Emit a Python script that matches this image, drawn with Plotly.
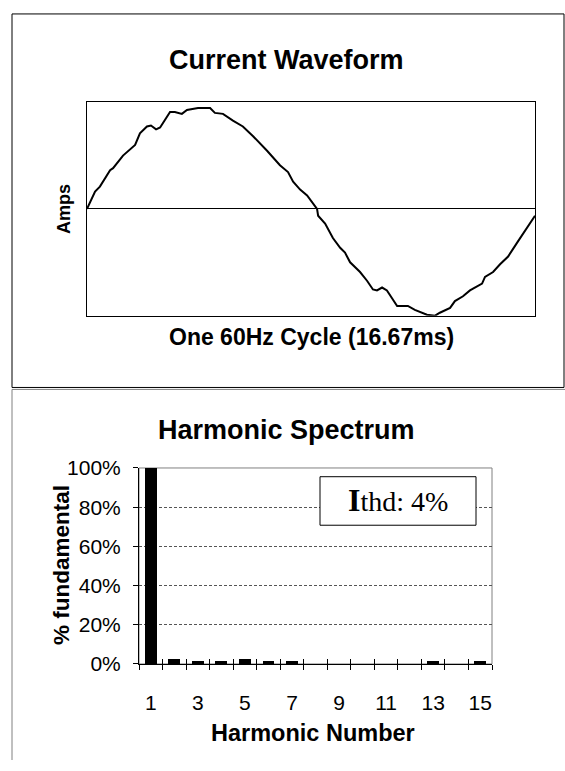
import plotly.graph_objects as go

# ---------------- data ----------------
time_ms = [0.00, 0.30, 0.48, 0.86, 0.97, 1.34, 1.79, 1.97, 2.23, 2.38, 2.57, 2.72,
           3.09, 3.27, 3.53, 3.72, 4.13, 4.58, 4.76, 5.06, 5.43, 5.80, 6.18, 6.70,
           7.18, 7.48, 7.67, 7.93, 8.19, 8.37, 8.56, 8.60, 8.86, 9.15, 9.42, 9.60,
           9.79, 10.16, 10.42, 10.64, 10.79, 10.98, 11.16, 11.35, 11.54, 11.94, 12.20,
           12.65, 12.95, 13.13, 13.51, 13.69, 13.99, 14.25, 14.70, 14.81, 15.11, 15.37,
           15.67, 16.00, 16.37, 16.67]
current = [0, 18, 23, 40, 42, 55, 66, 78, 85, 86, 82, 84,
           100, 100, 98, 102, 104, 104, 99, 98, 91, 85, 75, 60,
           45, 38, 28, 20, 14, 7, 0, -7, -15, -30, -40, -45,
           -55, -65, -74, -83, -84, -81, -84, -92, -100, -100, -104,
           -109, -110, -107, -102, -95, -90, -84, -77, -70, -65, -57,
           -49, -35, -20, -7]

harmonic_numbers = list(range(1, 16))
harmonic_pct = [100, 2.5, 1.3, 1.3, 2.5, 1.3, 1.5, 0, 0, 0, 0, 0, 1.3, 0, 1.3]
harmonic_label_vals = [1, 3, 5, 7, 9, 11, 13, 15]
harmonic_boundaries = [h - 0.5 for h in range(1, 17)]
pct_ticks = [0, 20, 40, 60, 80, 100]
pct_labels = ["0%", "20%", "40%", "60%", "80%", "100%"]
thd_text = "Ithd: 4%"

# ---------------- layout helpers ----------------
W, H = 565, 771
def px(x):
    return x / W
def py(y):
    return 1 - y / H

SANS = "Arial, Liberation Sans, sans-serif"
SERIF = "Times New Roman, Liberation Serif, serif"

fig = go.Figure()

fig.add_trace(go.Scatter(x=time_ms, y=current, mode="lines",
                         line=dict(color="black", width=2),
                         xaxis="x", yaxis="y", showlegend=False, hoverinfo="skip"))

fig.add_trace(go.Bar(x=harmonic_numbers, y=harmonic_pct, width=0.5,
                     marker=dict(color="black", line=dict(width=0)),
                     xaxis="x2", yaxis="y2", showlegend=False))

# empty helper traces so overlay tick axes render
fig.add_trace(go.Scatter(x=[], y=[], xaxis="x3", yaxis="y2", showlegend=False))
fig.add_trace(go.Scatter(x=[], y=[], xaxis="x4", yaxis="y2", showlegend=False))

top_x = [px(87), px(535)]
top_y = [py(313), py(93)]
bot_x = [px(139), px(492)]
bot_y = [py(672), py(470)]

fig.update_layout(
    width=W, height=H,
    margin=dict(l=0, r=0, t=0, b=0),
    paper_bgcolor="white", plot_bgcolor="white",
    bargap=0,
    xaxis=dict(domain=top_x, anchor="y", range=[0, 16.67], showticklabels=False,
               ticks="", showgrid=False, zeroline=False,
               showline=True, mirror=True, linecolor="black", linewidth=1),
    yaxis=dict(domain=top_y, anchor="x", range=[-110, 110], showticklabels=False,
               ticks="", showgrid=False, zeroline=True, zerolinecolor="black",
               zerolinewidth=1, showline=True, mirror=True, linecolor="black", linewidth=1),
    xaxis2=dict(domain=bot_x, anchor="y2", range=[0.5, 15.5], tickmode="array",
                tickvals=harmonic_label_vals, ticks="", showgrid=False, zeroline=False,
                showline=True, linecolor="black", linewidth=1,
                tickfont=dict(family=SANS, size=21, color="black"),
                ticklabelstandoff=20),
    xaxis3=dict(overlaying="x2", anchor="y2", range=[0.5, 15.5], tickmode="array",
                tickvals=harmonic_boundaries, ticks="outside", ticklen=5, tickwidth=1,
                tickcolor="black", showticklabels=False, showgrid=False,
                zeroline=False, showline=False),
    xaxis4=dict(overlaying="x2", anchor="y2", range=[0.5, 15.5], tickmode="array",
                tickvals=harmonic_boundaries, ticks="inside", ticklen=5, tickwidth=1,
                tickcolor="black", showticklabels=False, showgrid=False,
                zeroline=False, showline=False),
    yaxis2=dict(domain=bot_y, anchor="x2", range=[0, 100], tickmode="array",
                tickvals=pct_ticks, ticktext=pct_labels, ticks="outside", ticklen=5,
                tickcolor="black", showline=True, linecolor="black", linewidth=1,
                showgrid=True, gridcolor="#555555", griddash="3px,2px", gridwidth=1,
                zeroline=False, tickfont=dict(family=SANS, size=21, color="black"),
                ticklabelstandoff=8),
)

shapes = [
    # outer frame of the waveform chart
    dict(type="rect", xref="paper", yref="paper", x0=px(12), x1=px(564),
         y0=py(387), y1=py(2), line=dict(color="black", width=1), layer="below"),
    # outer frame of the spectrum chart (top and left edges visible)
    dict(type="line", xref="paper", yref="paper", x0=px(12), x1=px(565),
         y0=py(389), y1=py(389), line=dict(color="#808080", width=1)),
    dict(type="line", xref="paper", yref="paper", x0=px(12), x1=px(12),
         y0=py(389), y1=py(771), line=dict(color="#808080", width=1)),
    # gray plot-area border of spectrum chart
    dict(type="rect", xref="x2 domain", yref="y2 domain", x0=0, x1=1, y0=0, y1=1,
         line=dict(color="#808080", width=1), layer="below"),
    # THD label box
    dict(type="rect", xref="paper", yref="paper", x0=px(320), x1=px(476),
         y0=py(529), y1=py(479), fillcolor="white",
         line=dict(color="black", width=1), layer="above"),
]
fig.update_layout(shapes=shapes)

ann = [
    dict(text="<b>Current Waveform</b>", x=px(286), y=py(49),
         font=dict(family=SANS, size=27, color="black")),
    dict(text="<b>Amps</b>", x=px(64), y=py(203), textangle=-90,
         font=dict(family=SANS, size=18, color="black")),
    dict(text="<b>One 60Hz Cycle (16.67ms)</b>", x=px(311), y=py(335),
         font=dict(family=SANS, size=23, color="black")),
    dict(text="<b>Harmonic Spectrum</b>", x=px(286), y=py(431),
         font=dict(family=SANS, size=27, color="black")),
    dict(text="<b>% fundamental</b>", x=px(62), y=py(570), textangle=-90,
         font=dict(family=SANS, size=22.5, color="black")),
    dict(text="<b>Harmonic Number</b>", x=px(313), y=py(743),
         font=dict(family=SANS, size=23.5, color="black")),
    dict(text="<span style='font-size:32px'><b>" + thd_text[0] + "</b></span>" + thd_text[1:],
         x=px(398), y=py(503),
         font=dict(family=SERIF, size=28, color="black")),
]
for a in ann:
    a.update(xref="paper", yref="paper", showarrow=False, xanchor="center", yanchor="middle")
fig.update_layout(annotations=ann)

# remove the default page margin so the figure sits at the window origin
fig.write_html("out.html", config={"displayModeBar": False},
               post_script="document.body.style.margin='0px';")
